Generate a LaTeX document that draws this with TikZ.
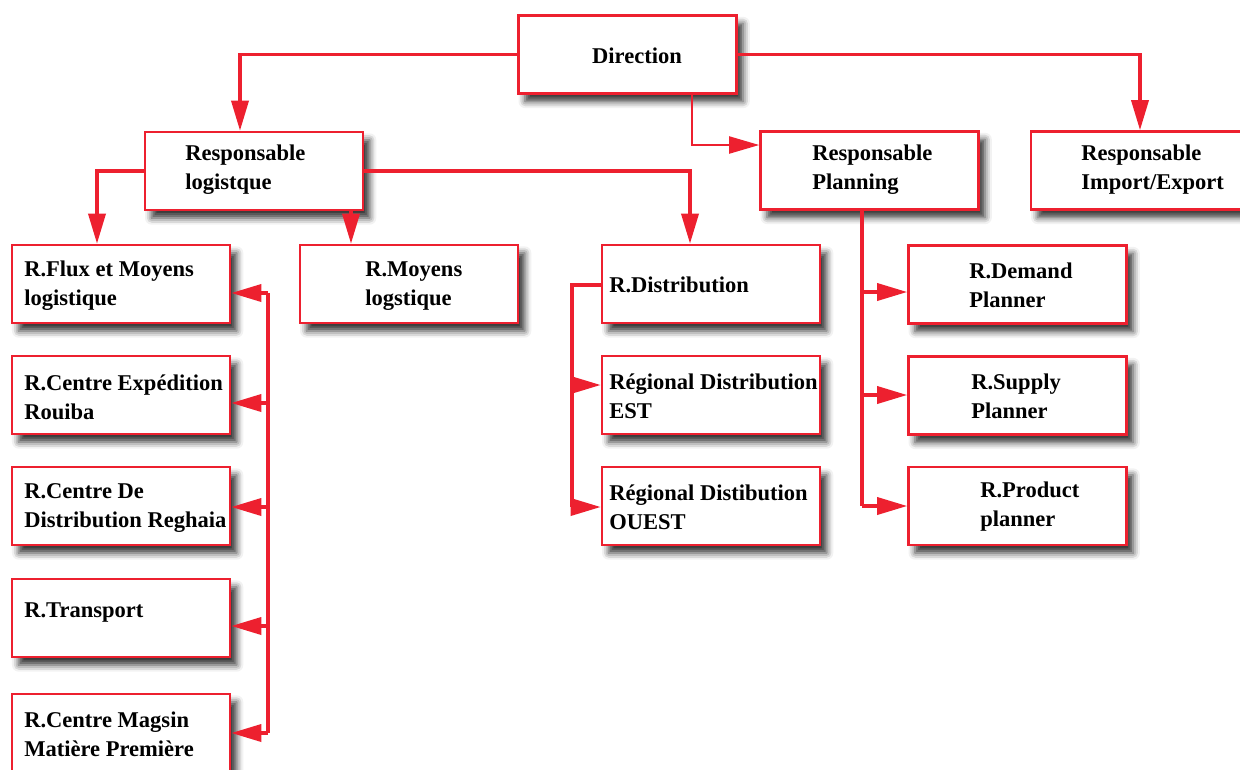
\documentclass[tikz,border=0pt]{standalone}
\usepackage{fontspec}
\setmainfont{Liberation Serif}
\usetikzlibrary{arrows.meta,shadows.blur}
\definecolor{orgred}{RGB}{237,32,47}
\begin{document}
\begin{tikzpicture}[x=0.75pt,y=-0.75pt,
  box/.style={draw=orgred, line width=1.9pt, fill=white, minimum width=163.5pt,
    minimum height=58.5pt, inner sep=0pt,
    blur shadow={shadow xshift=5pt, shadow yshift=-6pt, shadow blur radius=5pt, shadow opacity=80}},
  txt/.style={anchor=west, align=left, inner sep=0pt, text=black,
    font=\bfseries\fontsize{16.9}{21.75}\selectfont},
  link/.style={draw=orgred, line width=2.6pt, line join=miter},
  thinlink/.style={draw=orgred, line width=1.5pt, line join=miter},
  tip/.style={-{Triangle[length=22.5pt,width=12.75pt]}}
]
\useasboundingbox (0,0) rectangle (1240,769);

% boxes
\node[box] (dir)     at (627.5,54.5) {};
\node[box] (rlog)    at (254,171)    {};
\node[box] (rplan)   at (869.5,170.5) {};
\node[box] (rimp)    at (1140,170.5) {};
\node[box] (flux)    at (121,284) {};
\node[box] (cexp)    at (121,395) {};
\node[box] (cdist)   at (121,506) {};
\node[box] (transp)  at (121,618) {};
\node[box] (magsin)  at (121,733) {};
\node[box] (moyens)  at (409,284) {};
\node[box] (rdist)   at (711,284) {};
\node[box] (est)     at (711,395) {};
\node[box] (ouest)   at (711,506) {};
\node[box] (demand)  at (1017.5,284.5) {};
\node[box] (supply)  at (1017.5,395.5) {};
\node[box] (product) at (1017.5,506) {};

% labels
\node[txt, anchor=center] (dir-t) at (637,56) {Direction};
\node[txt] (rlog-t)    at (185,170) {Responsable\\logistque};
\node[txt] (rplan-t)   at (812,170) {Responsable\\Planning};
\node[txt] (rimp-t)    at (1081,170) {Responsable\\Import/Export};
\node[txt] (flux-t)    at (24,286) {R.Flux et Moyens\\logistique};
\node[txt] (cexp-t)    at (24,397) {R.Centre Expédition\\Rouiba};
\node[txt] (cdist-t)   at (24,508) {R.Centre De\\Distribution Reghaia};
\node[txt] (transp-t)  at (24,613) {R.Transport};
\node[txt] (magsin-t)  at (24,734) {R.Centre Magsin\\Matière Première};
\node[txt] (moyens-t)  at (365,286) {R.Moyens\\logstique};
\node[txt] (rdist-t)   at (609,285) {R.Distribution};
\node[txt] (est-t)     at (609,396) {Régional Distribution\\EST};
\node[txt] (ouest-t)   at (609,507) {Régional Distibution\\OUEST};
\node[txt] (demand-t)  at (969,285) {R.Demand\\Planner};
\node[txt] (supply-t)  at (971,396) {R.Supply\\Planner};
\node[txt] (product-t) at (980,507) {R.Product\\planner};

% bend points
\coordinate (k1) at (240,55);
\coordinate (k3) at (97,170);
\coordinate (k4) at (351,0);
\coordinate (k5) at (690,170);
\coordinate (k6) at (692,145);

% top level
\draw[link,tip] (dir.west) -| (k1 |- rlog.north);
\draw[link,tip] (dir.east) -| (rimp.north);
\draw[thinlink,tip] (dir.south -| k6) |- (rplan.west |- k6);

% logistics
\draw[link,tip] (rlog.west) -| (k3 |- flux.north);
\draw[link,tip] (k4 |- rlog.south) -- (k4 |- moyens.north);
\draw[link,tip] (rlog.east) -| (k5 |- rdist.north);

% left bus
\coordinate (lb1) at (268,293);
\coordinate (lb2) at (268,403);
\coordinate (lb3) at (268,507);
\coordinate (lb4) at (268,626);
\coordinate (lb5) at (268,733);
\draw[link] (lb1) -- (lb5);
\draw[link,tip] (lb1) -- (flux.east |- lb1);
\draw[link,tip] (lb2) -- (cexp.east |- lb2);
\draw[link,tip] (lb3) -- (cdist.east |- lb3);
\draw[link,tip] (lb4) -- (transp.east |- lb4);
\draw[link,tip] (lb5) -- (magsin.east |- lb5);

% distribution bus
\coordinate (db1) at (572,285);
\coordinate (db2) at (572,385);
\coordinate (db3) at (572,507);
\draw[link] (rdist.west |- db1) -- (db1) -- (db3);
\draw[link,tip] (db2) -- (est.west |- db2);
\draw[link,tip] (db3) -- (ouest.west |- db3);

% planning bus
\coordinate (pb1) at (862,292);
\coordinate (pb2) at (862,395);
\coordinate (pb3) at (862,506);
\draw[link] (pb1 |- rplan.south) -- (pb3);
\draw[link,tip] (pb1) -- (demand.west |- pb1);
\draw[link,tip] (pb2) -- (supply.west |- pb2);
\draw[link,tip] (pb3) -- (product.west |- pb3);
\end{tikzpicture}
\end{document}
